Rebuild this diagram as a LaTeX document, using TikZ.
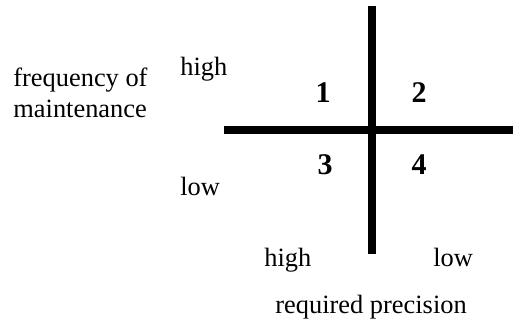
\documentclass[tikz,border=0pt]{standalone}
\usepackage{fontspec}
\setmainfont{Liberation Serif}
\usetikzlibrary{positioning}

\begin{document}
\begin{tikzpicture}[x=0.5pt, y=-0.5pt,
  lbl/.style={font=\fontsize{13.2}{15.5}\selectfont, inner sep=0pt},
  quad/.style={font=\fontsize{15}{18}\selectfont\bfseries, inner sep=0pt},
  axis/.style={line width=3.7pt}]
  \useasboundingbox (0,0) rectangle (513,325);
  \coordinate (vtop) at (372,6);
  \coordinate (vbot) at (372,254);
  \coordinate (hleft) at (224,130);
  \coordinate (hright) at (513,130);
  \draw[axis] (vtop) -- (vbot);
  \draw[axis] (hleft) -- (hright);
  % quadrant numbers
  \foreach \n/\x/\y in {1/323/103, 2/419/103, 3/325/175, 4/419/175}{
    \node[quad, anchor=base] (q\n) at (\x,\y) {\n};
  }
  % vertical axis labels
  \node[lbl, anchor=base west] (yhigh) at (180,76) {high};
  \node[lbl, anchor=base west] (ylow) at (180,196) {low};
  \node[lbl, anchor=base west, align=left] (ytitle) at (13,118) {frequency of\\maintenance};
  % horizontal axis labels
  \node[lbl, anchor=base west] (xhigh) at (264,267) {high};
  \node[lbl, anchor=base west] (xlow) at (433,267) {low};
  \node[lbl, anchor=base west] (xtitle) at (275,314) {required precision};
\end{tikzpicture}
\end{document}
